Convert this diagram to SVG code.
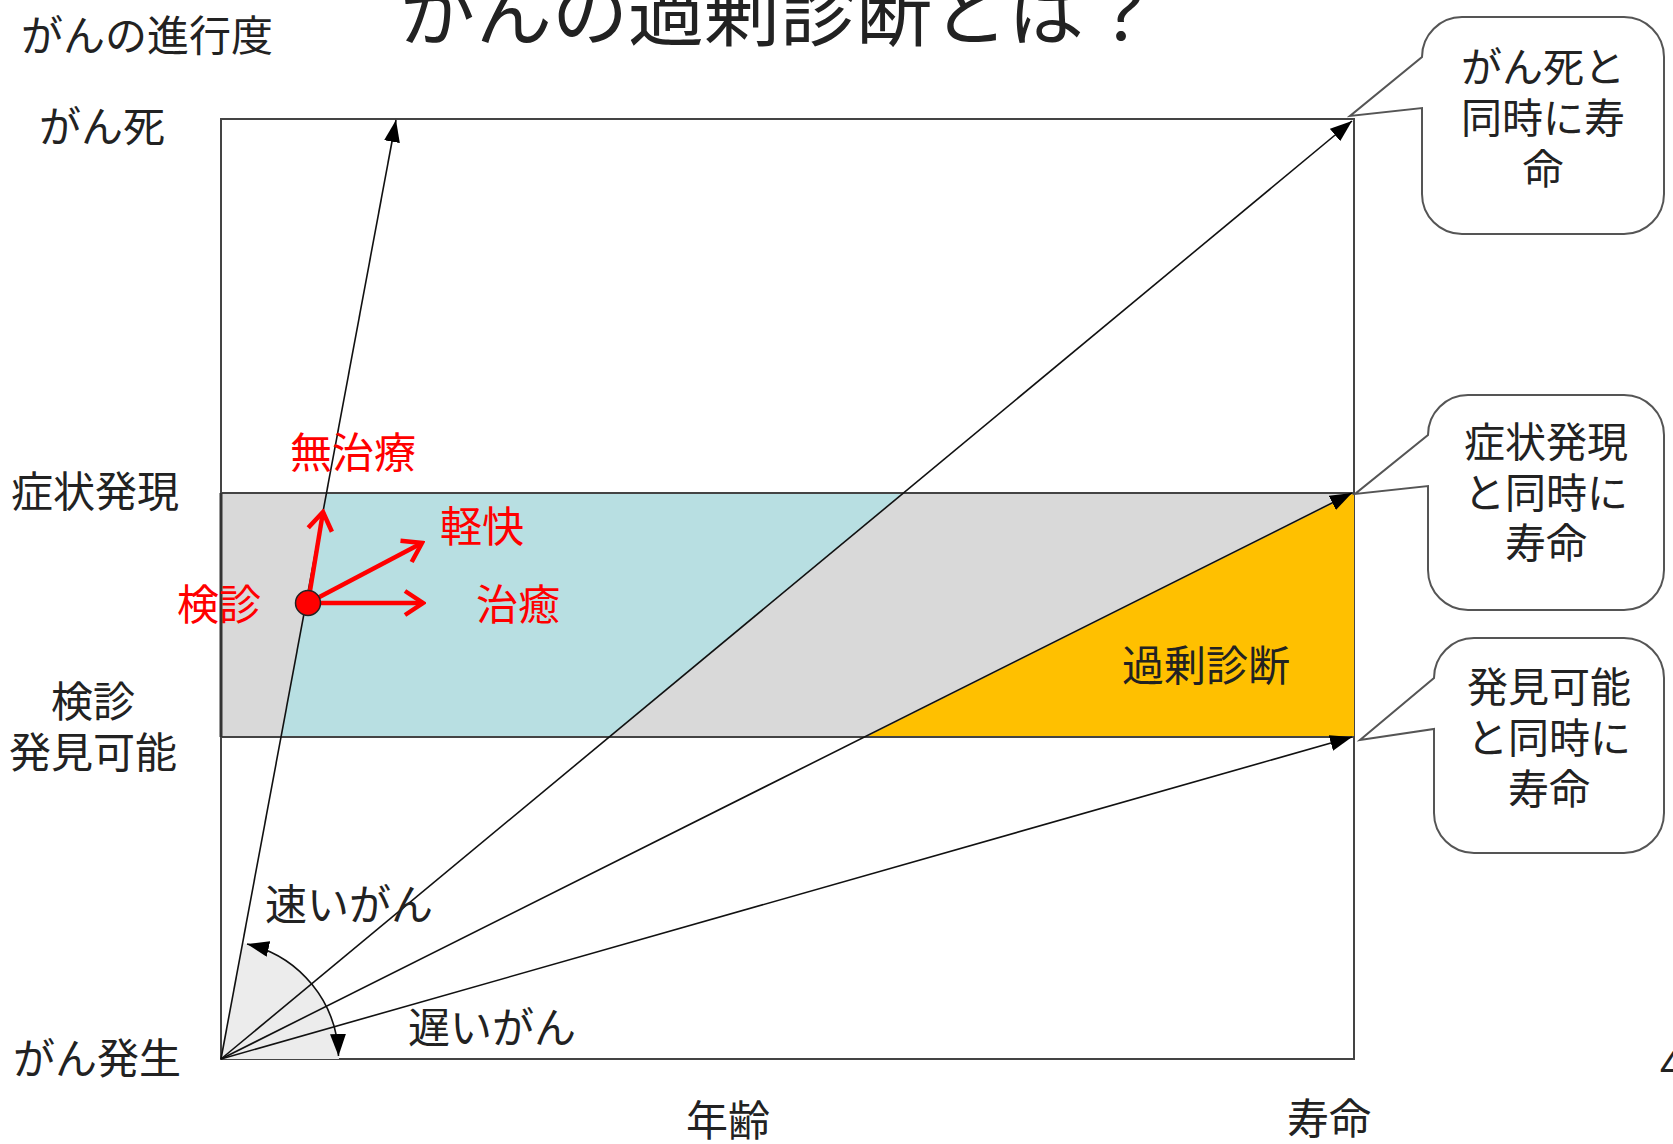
<svg xmlns="http://www.w3.org/2000/svg" width="1673" height="1144" viewBox="0 0 1673 1144">
<style>
text{font-family:"Noto Sans CJK JP","Noto Sans CJK SC",sans-serif;font-size:42px;fill:#222}
.red{fill:#ff0000}
.c{text-anchor:middle}
.cl{font-size:41px}
.ln{stroke:#111;stroke-width:1.6;fill:none}
.ra{stroke:#ff0000;stroke-width:4.5;fill:none}
.call{fill:#fff;stroke:#555;stroke-width:2}
</style>
<defs>
<marker id="tri" markerUnits="userSpaceOnUse" viewBox="0 0 22 16" refX="22" refY="8" markerWidth="22" markerHeight="16" orient="auto-start-reverse">
<path d="M0,0 L22,8 L0,16 Z" fill="#000"/>
</marker>
<marker id="chev" markerUnits="userSpaceOnUse" viewBox="0 0 24 30" refX="21" refY="15" markerWidth="24" markerHeight="30" orient="auto">
<path d="M3,3 L21,15 L3,27" fill="none" stroke="#ff0000" stroke-width="4.5" stroke-linejoin="miter"/>
</marker>
</defs>
<rect width="1673" height="1144" fill="#fff"/>

<g id="chart-area">
<rect x="221" y="119" width="1133" height="940" fill="#fff" stroke="#444" stroke-width="2"/>
<rect x="221" y="493" width="1133" height="244" fill="#d9d9d9"/>
<polygon points="326,493 903,493 610,737 281,737" fill="#b8dfe2"/>
<polygon points="866,737 1354,493 1354,737" fill="#ffc000"/>
<path d="M221,493 H1354 M221,737 H1354" stroke="#444" stroke-width="2"/>
<path d="M221,493 V737" stroke="#333" stroke-width="3"/>
<path d="M221,1059 L339,1059 A118,118 0 0 0 243,943 Z" fill="#ececec"/>
</g>

<g id="connectors">
<line class="ln" x1="221" y1="1059" x2="396" y2="120" marker-end="url(#tri)"/>
<line class="ln" x1="221" y1="1059" x2="1352" y2="121" marker-end="url(#tri)"/>
<line class="ln" x1="221" y1="1059" x2="1352" y2="493" marker-end="url(#tri)"/>
<line class="ln" x1="221" y1="1059" x2="1352" y2="737" marker-end="url(#tri)"/>
<path class="ln" d="M338.5,1056 A118,118 0 0 0 247,944" stroke-width="2" marker-start="url(#tri)" marker-end="url(#tri)"/>
<line class="ra" x1="308" y1="603" x2="323" y2="512" marker-end="url(#chev)"/>
<line class="ra" x1="308" y1="603" x2="422" y2="543" marker-end="url(#chev)"/>
<line class="ra" x1="308" y1="603" x2="423" y2="603" marker-end="url(#chev)"/>
</g>

<g id="kenshin-dot">
<circle cx="308" cy="603" r="12.5" fill="#ff0000" stroke="#222" stroke-width="1.5"/>
</g>

<g id="title">
<text x="400" y="40" style="font-size:76px">がんの過剰診断とは？</text>
</g>

<g id="axis-labels">
<text x="21" y="51">がんの進行度</text>
<text x="39" y="142">がん死</text>
<text x="11" y="507">症状発現</text>
<text class="c" x="93" y="717">検診</text>
<text class="c" x="93" y="768">発見可能</text>
<text x="13" y="1074">がん発生</text>
<text x="686" y="1136">年齢</text>
<text x="1287" y="1134">寿命</text>
<text x="1660" y="1080" style="font-size:40px">4</text>
</g>

<g id="treatment-labels">
<text class="red" x="290" y="468">無治療</text>
<text class="red" x="440" y="542">軽快</text>
<text class="red" x="177" y="620">検診</text>
<text class="red" x="476" y="620">治癒</text>
</g>

<g id="overdiagnosis">
<text x="1122" y="681">過剰診断</text>
</g>

<g id="speed-labels">
<text x="265" y="920">速いがん</text>
<text x="408" y="1043">遅いがん</text>
</g>

<g id="callout-death">
<path class="call" d="M1462,17 H1624 A40,40 0 0 1 1664,57 V194 A40,40 0 0 1 1624,234 H1462 A40,40 0 0 1 1422,194 V108 L1350,116 L1422,57 A40,40 0 0 1 1462,17 Z"/>
<text class="c cl" x="1543" y="82">がん死と</text>
<text class="c cl" x="1543" y="133">同時に寿</text>
<text class="c cl" x="1543" y="184">命</text>
</g>

<g id="callout-symptom">
<path class="call" d="M1468,395 H1624 A40,40 0 0 1 1664,435 V570 A40,40 0 0 1 1624,610 H1468 A40,40 0 0 1 1428,570 V486 L1355,494 L1428,435 A40,40 0 0 1 1468,395 Z"/>
<text class="c cl" x="1546" y="457">症状発現</text>
<text class="c cl" x="1546" y="508">と同時に</text>
<text class="c cl" x="1546" y="558">寿命</text>
</g>

<g id="callout-detectable">
<path class="call" d="M1474,638 H1624 A40,40 0 0 1 1664,678 V813 A40,40 0 0 1 1624,853 H1474 A40,40 0 0 1 1434,813 V729 L1360,740 L1434,678 A40,40 0 0 1 1474,638 Z"/>
<text class="c cl" x="1549" y="702">発見可能</text>
<text class="c cl" x="1549" y="753">と同時に</text>
<text class="c cl" x="1549" y="804">寿命</text>
</g>
</svg>
